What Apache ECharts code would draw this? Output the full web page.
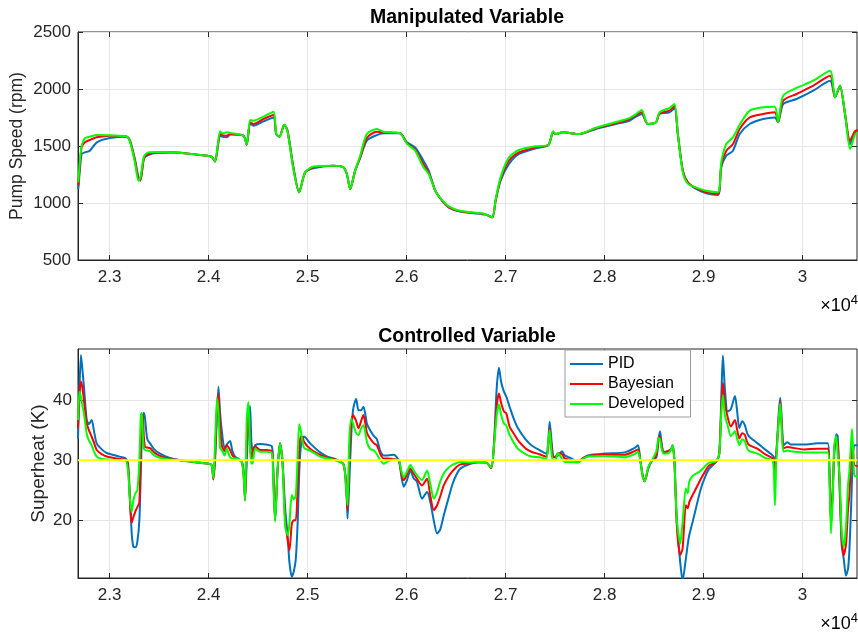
<!DOCTYPE html>
<html><head><meta charset="utf-8">
<script src="https://cdn.jsdelivr.net/npm/echarts@6/dist/echarts.min.js"></script>
<style>html,body{margin:0;padding:0;background:#fff}#c{width:858px;height:635px}</style>
</head><body><div id="c"></div>
<script>
// ---------- tick labels ----------
const xTicks = [23000,24000,25000,26000,27000,28000,29000,30000];
const yTicksTop = [500,1000,1500,2000,2500];
const yTicksBot = [20,30,40];
const seriesNames = ['PID','Bayesian','Developed'];
const setpoint = 30;

// ---------- Manipulated variable (pump speed, rpm) ----------
const timeTop = [22683,22700,22717,22750,22800,22870,23000,23170,23205,23256,23290,23310,23347,23390,23475,23644,23913,24030,24065,24115,24142,24183,24217,24352,24385,24419,24453,24554,24655,24682,24716,24763,24797,24857,24914,24975,25059,25261,25362,25396,25430,25480,25531,25598,25699,25766,25935,26002,26086,26170,26223,26290,26358,26426,26527,26662,26797,26865,26899,26949,27034,27135,27304,27432,27480,27507,27574,27743,27912,28115,28250,28317,28375,28436,28520,28554,28655,28706,28740,28790,28841,28925,29027,29145,29179,29229,29297,29365,29466,29601,29719,29753,29804,29939,30108,30277,30328,30378,30429,30480,30530,30557];
const pidTop = [1123,1300,1430,1444,1459,1532,1570,1582,1550,1380,1230,1196,1390,1420,1440,1444,1421,1406,1365,1590,1580,1576,1600,1590,1512,1700,1678,1716,1751,1605,1582,1687,1634,1313,1094,1269,1305,1327,1313,1254,1123,1284,1395,1547,1596,1611,1611,1532,1488,1371,1284,1108,1020,962,927,912,898,874,1020,1196,1342,1430,1480,1509,1620,1605,1620,1605,1649,1693,1722,1757,1781,1693,1708,1781,1795,1833,1605,1284,1181,1123,1085,1070,1313,1415,1459,1605,1693,1737,1751,1708,1868,1912,1985,2073,1927,2029,1781,1518,1620,1634];
const bayTop = [1152,1350,1488,1532,1553,1576,1590,1584,1545,1370,1210,1200,1400,1430,1444,1446,1421,1406,1365,1605,1595,1590,1605,1590,1512,1708,1693,1737,1772,1605,1582,1687,1630,1300,1094,1269,1313,1327,1313,1254,1123,1284,1400,1570,1626,1620,1611,1525,1470,1340,1265,1108,1020,962,930,915,900,874,1020,1210,1371,1444,1488,1509,1620,1605,1620,1605,1655,1700,1735,1770,1795,1693,1708,1785,1810,1850,1605,1284,1181,1130,1095,1080,1330,1459,1518,1649,1751,1781,1795,1708,1898,1956,2029,2117,1927,2029,1781,1547,1630,1640];
const devTop = [1181,1380,1503,1570,1582,1596,1594,1584,1540,1350,1195,1220,1410,1444,1448,1446,1421,1406,1365,1629,1610,1620,1615,1590,1512,1728,1722,1757,1801,1610,1582,1687,1625,1290,1094,1269,1320,1327,1313,1254,1123,1284,1415,1605,1649,1625,1611,1520,1459,1313,1254,1108,1025,970,935,918,902,874,1030,1225,1400,1465,1497,1509,1630,1605,1620,1605,1660,1710,1745,1780,1816,1693,1708,1795,1833,1868,1605,1270,1170,1135,1108,1095,1360,1518,1576,1687,1810,1839,1845,1708,1942,2009,2073,2161,1927,2029,1781,1474,1600,1620];

// ---------- Controlled variable (superheat, K) ----------
const timeBot = [22680,22695,22710,22725,22740,22768,22790,22818,22840,22869,22920,22970,23100,23160,23185,23205,23222,23239,23260,23280,23300,23315,23325,23335,23345,23357,23380,23408,23450,23509,23600,23711,23850,23998,24030,24048,24065,24085,24099,24115,24132,24160,24183,24216,24240,24267,24334,24355,24368,24385,24402,24418,24432,24446,24470,24520,24580,24638,24650,24671,24695,24720,24745,24773,24800,24816,24840,24860,24880,24900,24915,24930,24950,24965,25025,25126,25200,25278,25362,25390,25403,25420,25440,25460,25490,25514,25540,25564,25600,25631,25670,25699,25735,25768,25810,25869,25920,25950,25971,26000,26038,26070,26105,26156,26206,26240,26274,26308,26340,26375,26420,26459,26500,26543,26645,26720,26805,26855,26880,26910,26933,26955,26983,27007,27040,27080,27125,27200,27260,27340,27411,27430,27445,27465,27480,27500,27530,27570,27597,27664,27731,27780,27832,28001,28203,28300,28338,28361,28385,28405,28440,28472,28523,28545,28560,28575,28596,28636,28670,28687,28705,28730,28764,28788,28821,28840,28855,28889,28930,28973,29015,29057,29125,29158,29180,29195,29215,29243,29276,29317,29340,29361,29390,29418,29440,29462,29546,29620,29698,29712,29721,29735,29760,29775,29795,29809,29845,29883,30018,30150,30254,30270,30288,30305,30321,30340,30355,30375,30395,30416,30439,30460,30473,30490,30500,30512,30523,30557];
const pidBot = [33.6,42,47.5,45,42.2,36.7,36,36.7,35,32.8,31.8,31.2,30.6,30.3,29.5,24,18,15.6,15.5,16.5,20,28,34,37,37.9,37,33.5,32.8,31.8,31.1,30.4,30,29.7,29.4,29.2,27,30,38,42.2,38,35,32,32.6,33.2,31.5,30.6,29.8,28,23.5,30,36,39,33,31.5,32.5,32.7,32.6,32.3,30,20,28,32.8,30,22,17,13,10.6,11.5,13.5,20,28,32,33.9,33.9,32.8,31.3,30.6,30.2,29.3,26,20.3,26,34,38.5,40.2,38.3,38.3,38.9,36,35,34,33.5,31.5,30.8,30.8,30.9,30,27,25.6,26.5,28.3,27,26.4,23.6,24.7,23,20,17.8,18.5,20.8,23.5,25.8,27.5,28.6,29.4,29.6,29.6,28.7,32,42,45.4,43,41.4,40.6,38.9,37,35.3,33.5,32.5,31.7,31.1,33,36.4,33,30.8,30.5,30.8,31.5,30.8,30.3,29.7,30.3,30.8,31.1,31.3,32,32.5,30,27.5,26.5,28.5,29.7,30.5,33.5,34.8,33,31.4,31.5,31.8,32.5,30,20,13,10,13.6,16,17.5,19.7,22.5,25.3,27.2,28.6,29.7,31,41,47.4,42,38.1,38.5,40.7,38,35.3,36.5,35.8,34.5,33.9,32.8,31.8,30.8,30.5,29.5,31,38,40.4,35,32.5,33,32.6,32.6,32.8,32.8,29,20,25,31,34.3,34,25,16,13.6,10.8,12,15,22,27,31,32.5,32.5];
const bayBot = [35.3,41,43.1,42,40,36.1,35,33.9,33,31.7,31,30.6,30.2,30.1,29,23,19.6,20.5,21.5,22.2,23,33,37.5,37.5,34,32.2,32.1,32,31.3,30.7,30.2,30,29.7,29.4,29.2,26.8,31,39,41,36,32.5,31.5,32.5,31.7,30.8,30.4,29.7,27,23.3,33,38,33,30,31.5,32.3,31.7,31.7,31.5,29,20,28,32.8,30,20,16.5,15,19.4,20,20,26,32,34,33.8,33,31.9,30.9,30.4,30.1,29.3,25,21.7,30,36,37.5,36.5,35.3,36.5,37.5,34.5,33.6,32.8,32.5,31,30.3,30.3,30.2,30,27.5,26.7,27.5,28.6,27.8,26.9,25.8,26.9,24,21.7,22.5,24,25.8,27.2,28.1,28.8,29.3,29.5,29.7,29.6,28.7,32,39,41.1,39.5,38.1,37.8,35.6,34.5,33.3,32,31.4,31,30.6,32,35.3,32,30.5,30.5,31.2,31,30.3,30,29.7,30.3,30.7,30.9,30.9,31.5,31.8,30,27.3,26.5,28.7,29.8,30.8,33.6,34,32.5,31.2,31.5,31.8,32.3,30,19,14.2,15.3,22.5,22,23,24.2,25.5,26.9,28.1,29.1,29.7,31,39,42.9,39.5,37.2,35.6,36.7,35,33.6,34.5,34.2,33,32.5,31.9,31,30.3,30,28,31,37,39.8,34,32,32.2,32.1,31.8,31.9,31.9,29,19,25,32,33.5,33,26,17,14.2,16,22,24.2,30,32.5,31,29.2,29];
const devBot = [36.7,41.4,40.5,39,37.8,34.4,33.3,32.5,31.5,30.6,30.2,30.1,30,30,28.3,23.5,21.4,23.3,24.5,25,30,37.5,37.9,34,32,31.7,31.6,31.5,30.8,30.4,30.1,30,29.7,29.4,29.2,27,33,40.3,38,32,31.7,30.8,31.9,30.5,30.3,30.3,29.7,27,23.3,37,39.7,32,29.4,29.6,31.9,31.4,31.4,31.2,28,19.8,28,32.8,30,19,17.5,19.5,24.2,23.5,24,31,36,35,33,32,31.6,30.6,30.3,30,29.3,25,22.5,33,36.9,36,34.5,34.2,35.3,35.8,33,31.9,31.6,31,30,29.4,29.8,30.1,30,28,27.2,28,29.2,28.3,27.5,26.7,28.3,26,23.6,24.7,26.5,27.8,28.7,29.2,29.5,29.7,29.6,29.7,29.6,28.8,32,37.5,39.3,37.5,36.1,35.8,34.2,33,31.9,31,30.6,30.5,30.3,33,35,31,30,30,31.2,30.2,29.7,29.7,29.6,30.2,30.6,30.7,30.5,31,31.4,30,27.2,26.5,28.8,29.8,31.5,33.7,33.5,32,31.1,31.1,31.7,32.5,30,20,16.1,19.7,25.3,24.5,26.4,27.4,27.8,28.3,29,29.6,29.8,31,38,40.8,37.5,35.8,34,34.8,33.5,32.5,33.5,33.1,32,31.5,31.1,30.4,29.9,27,22.5,30,37,39.4,33,31.4,31.6,31.5,31.3,31.3,31.3,28,17.8,24,32.5,34,31,27,18,15.6,19,26,28.1,33,35.2,31,27.5,27.2];

const colors = ['#0072BD', '#FF0000', '#00FF00'];

function zip(t, v, name) {
  if (t.length !== v.length) throw new Error(name + ' length mismatch: ' + t.length + ' vs ' + v.length);
  return t.map((x, i) => [x, v[i]]);
}

const chart = echarts.init(document.getElementById('c'), null, {renderer: 'canvas'});
const FONT = 'Liberation Sans';
const axisCol = '#262626';
const gridCol = '#e6e6e6';
const TICK_FS = 17;
const xFmt = v => String(parseFloat((v / 10000).toFixed(1)));
const plainFmt = v => String(v);

function xAxisCfg(gi) {
  return {
    type: 'value', gridIndex: gi, min: 22680, max: 30550,
    axisLine: {show: true, onZero: false, lineStyle: {color: axisCol, width: 1}},
    axisTick: {show: true, inside: true, length: 5, customValues: xTicks, lineStyle: {color: axisCol}},
    axisLabel: {customValues: xTicks, formatter: xFmt, fontSize: TICK_FS, color: axisCol, fontFamily: FONT, margin: 9},
    splitLine: {show: true, lineStyle: {color: gridCol, width: 1}}
  };
}
function xAxisTop(gi) {
  return {
    type: 'value', gridIndex: gi, min: 22680, max: 30550, position: 'top',
    axisLine: {show: false}, axisLabel: {show: false}, splitLine: {show: false},
    axisTick: {show: true, inside: true, length: 5, customValues: xTicks, lineStyle: {color: axisCol}}
  };
}

const lineSeries = (name, data, xi, yi, ci) => ({
  name, type: 'line', xAxisIndex: xi, yAxisIndex: yi, data,
  showSymbol: false, symbol: 'none', smooth: 0.25,
  lineStyle: {color: colors[ci], width: 2}, itemStyle: {color: colors[ci]},
  animation: false, z: 2 + ci
});

const option = {
  animation: false,
  textStyle: {fontFamily: FONT},
  grid: [
    {left: 78, top: 32, width: 779, height: 228, show: true, borderColor: axisCol, borderWidth: 1, backgroundColor: 'transparent', containLabel: false, outerBoundsMode: 'none'},
    {left: 78, top: 349, width: 779, height: 229, show: true, borderColor: axisCol, borderWidth: 1, backgroundColor: 'transparent', containLabel: false, outerBoundsMode: 'none'}
  ],
  xAxis: [xAxisCfg(0), xAxisCfg(1), xAxisTop(0), xAxisTop(1)],
  yAxis: [
    {type: 'value', gridIndex: 0, min: 500, max: 2500, interval: 500,
     name: 'Pump Speed (rpm)', nameLocation: 'middle', nameGap: 52, nameMoveOverlap: false,
     nameTextStyle: {fontSize: 17.5, color: axisCol, fontFamily: FONT},
     axisLine: {show: true, lineStyle: {color: axisCol}},
     axisTick: {show: true, inside: true, length: 5, customValues: yTicksTop, lineStyle: {color: axisCol}},
     axisLabel: {customValues: yTicksTop, formatter: plainFmt, fontSize: TICK_FS, color: axisCol, fontFamily: FONT, margin: 7},
     splitLine: {show: true, lineStyle: {color: gridCol}}},
    {type: 'value', gridIndex: 1, min: 10.4, max: 48.5,
     name: 'Superheat (K)', nameLocation: 'middle', nameGap: 29.5, nameMoveOverlap: false,
     nameTextStyle: {fontSize: 19, color: axisCol, fontFamily: FONT},
     axisLine: {show: true, lineStyle: {color: axisCol}},
     axisTick: {show: true, inside: true, length: 5, customValues: yTicksBot, lineStyle: {color: axisCol}},
     axisLabel: {customValues: yTicksBot, formatter: plainFmt, fontSize: TICK_FS, color: axisCol, fontFamily: FONT, margin: 6},
     splitLine: {show: true, lineStyle: {color: gridCol}}},
    {type: 'value', gridIndex: 0, min: 500, max: 2500, interval: 500, position: 'right',
     axisLine: {show: false}, axisLabel: {show: false}, splitLine: {show: false},
     axisTick: {show: true, inside: true, length: 5, customValues: yTicksTop, lineStyle: {color: axisCol}}},
    {type: 'value', gridIndex: 1, min: 10.4, max: 48.5, position: 'right',
     axisLine: {show: false}, axisLabel: {show: false}, splitLine: {show: false},
     axisTick: {show: true, inside: true, length: 5, customValues: yTicksBot, lineStyle: {color: axisCol}}}
  ],
  legend: {
    data: seriesNames, orient: 'vertical', left: 565, top: 350,
    icon: 'rect', itemWidth: 33, itemHeight: 2, itemGap: 4,
    padding: [6, 6, 5, 5],
    backgroundColor: '#fff', borderColor: '#9a9a9a', borderWidth: 1, borderRadius: 0,
    textStyle: {fontSize: 16, color: '#000', fontFamily: FONT, padding: [0, 0, 0, 0]},
    selectedMode: false
  },
  graphic: [
    {type: 'text', x: 467, y: 18, z: 10, style: {text: 'Manipulated Variable', font: 'bold 19.5px "Liberation Sans"', fill: '#000', align: 'center', verticalAlign: 'middle'}},
    {type: 'text', x: 467, y: 337, z: 10, style: {text: 'Controlled Variable', font: 'bold 19.5px "Liberation Sans"', fill: '#000', align: 'center', verticalAlign: 'middle'}},
    {type: 'text', x: 858, y: 306, z: 10, style: {text: '{a|×10}{b|4}', align: 'right', verticalAlign: 'middle',
      rich: {a: {fontSize: 18, fontFamily: FONT, color: axisCol}, b: {fontSize: 13, fontFamily: FONT, color: axisCol, padding: [0, 0, 11, 0]}}}},
    {type: 'text', x: 858, y: 624, z: 10, style: {text: '{a|×10}{b|4}', align: 'right', verticalAlign: 'middle',
      rich: {a: {fontSize: 18, fontFamily: FONT, color: axisCol}, b: {fontSize: 13, fontFamily: FONT, color: axisCol, padding: [0, 0, 11, 0]}}}}
  ],
  series: [
    lineSeries('PID', zip(timeTop, pidTop, 'pidTop'), 0, 0, 0),
    lineSeries('Bayesian', zip(timeTop, bayTop, 'bayTop'), 0, 0, 1),
    lineSeries('Developed', zip(timeTop, devTop, 'devTop'), 0, 0, 2),
    lineSeries('PID', zip(timeBot, pidBot, 'pidBot'), 1, 1, 0),
    lineSeries('Bayesian', zip(timeBot, bayBot, 'bayBot'), 1, 1, 1),
    lineSeries('Developed', zip(timeBot, devBot, 'devBot'), 1, 1, 2),
    {name: 'Setpoint', type: 'line', xAxisIndex: 1, yAxisIndex: 1, showSymbol: false, symbol: 'none',
     data: [[22680, setpoint], [30550, setpoint]], lineStyle: {color: '#FFFF00', width: 2}, z: 6, animation: false}
  ]
};
chart.setOption(option);
</script>
</body></html>
